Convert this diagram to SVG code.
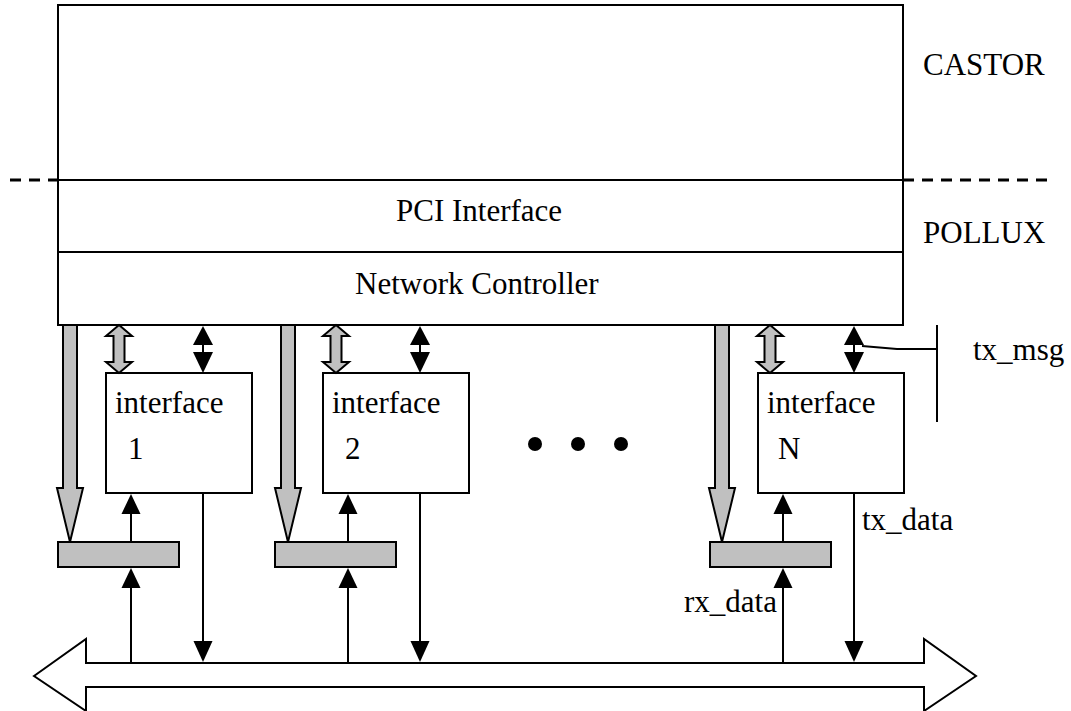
<svg xmlns="http://www.w3.org/2000/svg" width="1071" height="711" viewBox="0 0 1071 711">
<style>
text{font-family:"Liberation Serif","Times New Roman",serif;font-size:31px;fill:#000}
.box{fill:#fff;stroke:#000;stroke-width:2}
.bar{fill:#c0c0c0;stroke:#000;stroke-width:2}
.gray{fill:#c0c0c0;stroke:#000;stroke-width:2;stroke-linejoin:miter}
.ln{fill:none;stroke:#000;stroke-width:2}
.head{fill:#000;stroke:none}
.dash{fill:none;stroke:#000;stroke-width:3;stroke-dasharray:11 8}
</style>
<defs>
<polygon id="grayDown" class="gray" points="-7,325 7,325 7,488 13,488 0,542 -13,488 -7,488"/>
<polygon id="grayDbl" class="gray" points="0,325 13,336 5.5,336 5.5,362 13,362 0,373 -13,362 -5.5,362 -5.5,336 -13,336"/>
<g id="blackDbl">
<line class="ln" x1="0" y1="340" x2="0" y2="358"/>
<polygon class="head" points="0,326 10,345 -10,345"/>
<polygon class="head" points="0,373 10,352 -10,352"/>
</g>
<polygon id="upHead" class="head" points="0,0 9.5,20 -9.5,20"/>
<polygon id="downHead" class="head" points="0,0 9.5,-21 -9.5,-21"/>
</defs>

<line class="dash" x1="10" y1="180" x2="1050" y2="180"/>

<g id="main">
<rect class="box" x="58" y="5" width="845" height="320"/>
<line class="ln" x1="58" y1="180" x2="903" y2="180"/>
<line class="ln" x1="58" y1="252" x2="903" y2="252"/>
<text x="396" y="221">PCI Interface</text>
<text x="355" y="294">Network Controller</text>
</g>

<g id="labels">
<text x="923" y="75">CASTOR</text>
<text x="923" y="243">POLLUX</text>
<text x="973" y="360">tx_msg</text>
<text x="862" y="530">tx_data</text>
<text x="684" y="612">rx_data</text>
</g>

<g id="interface1">
<rect class="box" x="106" y="373" width="146" height="120"/>
<text x="115" y="413">interface</text>
<text x="128" y="459">1</text>
</g>
<g id="interface2">
<rect class="box" x="323" y="373" width="146" height="120"/>
<text x="332" y="413">interface</text>
<text x="345" y="459">2</text>
</g>
<g id="interfaceN">
<rect class="box" x="758" y="373" width="146" height="120"/>
<text x="767" y="413">interface</text>
<text x="778" y="459">N</text>
</g>

<g id="bar1"><rect class="bar" x="58" y="542" width="121" height="25"/></g>
<g id="bar2"><rect class="bar" x="275" y="542" width="121" height="25"/></g>
<g id="barN"><rect class="bar" x="710" y="542" width="121" height="25"/></g>

<g id="dots">
<circle cx="535" cy="444" r="7"/>
<circle cx="578" cy="444" r="7"/>
<circle cx="621" cy="444" r="7"/>
</g>

<g id="bus">
<polygon class="box" points="34,676 86,639 86,663 924,663 924,639 976,676 924,711 924,687 86,687 86,711"/>
</g>

<g id="connectors">
<use href="#grayDown" x="70"/>
<use href="#grayDbl" x="119"/>
<use href="#blackDbl" x="203"/>
<line class="ln" x1="131" y1="542" x2="131" y2="510"/>
<use href="#upHead" x="131" y="494"/>
<line class="ln" x1="131" y1="663" x2="131" y2="585"/>
<use href="#upHead" x="131" y="568"/>
<line class="ln" x1="203" y1="493" x2="203" y2="645"/>
<use href="#downHead" x="203" y="662"/>
<use href="#grayDown" x="288"/>
<use href="#grayDbl" x="336"/>
<use href="#blackDbl" x="420"/>
<line class="ln" x1="348" y1="542" x2="348" y2="510"/>
<use href="#upHead" x="348" y="494"/>
<line class="ln" x1="348" y1="663" x2="348" y2="585"/>
<use href="#upHead" x="348" y="568"/>
<line class="ln" x1="420" y1="493" x2="420" y2="645"/>
<use href="#downHead" x="420" y="662"/>
<use href="#grayDown" x="722"/>
<use href="#grayDbl" x="770"/>
<use href="#blackDbl" x="854"/>
<line class="ln" x1="783" y1="542" x2="783" y2="510"/>
<use href="#upHead" x="783" y="494"/>
<line class="ln" x1="783" y1="663" x2="783" y2="585"/>
<use href="#upHead" x="783" y="568"/>
<line class="ln" x1="854" y1="493" x2="854" y2="645"/>
<use href="#downHead" x="854" y="662"/>
<polyline class="ln" points="862,346 897,349 937,349"/>
<line class="ln" x1="937" y1="325" x2="937" y2="422"/>
</g>
</svg>
